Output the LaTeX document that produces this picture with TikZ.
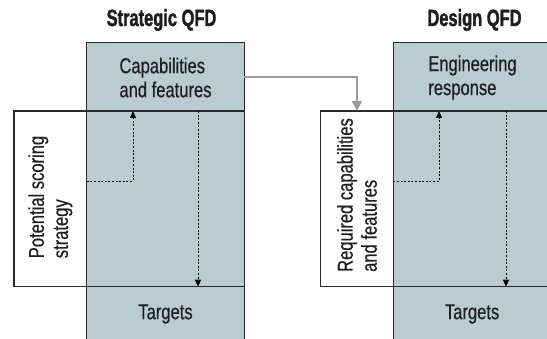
\documentclass[tikz,border=0pt]{standalone}
\usepackage{fontspec}
\setmainfont{Liberation Sans}[FakeStretch=0.77,FakeBold=0.5]
\newfontfamily\titlefont{Liberation Sans Bold}[FakeStretch=0.7,FakeBold=1.6]
\usetikzlibrary{arrows.meta}
\definecolor{panel}{HTML}{B8CCD2}
\definecolor{edge}{HTML}{2A2A2A}
\definecolor{txt}{HTML}{1E1E1E}
\definecolor{link}{HTML}{9C9C9C}
\begin{document}
\begin{tikzpicture}[x=1pt,y=-1pt,
  cell/.style={draw=edge,line width=1.1pt,inner sep=0pt,outer sep=0pt,minimum width=157.6pt},
  shaded/.style={cell,fill=panel},
  side/.style={draw=edge,line width=1.1pt,fill=white,inner sep=0pt,outer sep=0pt,minimum width=72.7pt,minimum height=175.7pt},
  lbl/.style={font=\fontsize{21.5}{24}\selectfont,text=txt,align=left,inner sep=0pt},
  ttl/.style={font=\titlefont\fontsize{23.5}{24}\selectfont,text=txt,inner sep=0pt,anchor=base},
  flow/.style={draw=black,line width=0.9pt,dash pattern=on 2pt off 1.6pt,-{Triangle[length=7pt,width=6pt]}},
  feed/.style={draw=link,line width=2.2pt,-{Triangle[length=10pt,width=10pt]}}]
\useasboundingbox (0,0) rectangle (547,339);
\clip (0,0) rectangle (547,339);
% titles
\node[ttl] (tL) at (161.5,26) {Strategic QFD};
\node[ttl] (tR) at (474.5,26) {Design QFD};
% left column
\node[shaded,minimum height=68.3pt] (capL) at (165.5,76.85) {};
\node[shaded,minimum height=175.7pt] (midL) at (165.5,198.85) {};
\node[shaded,minimum height=56pt] (tgtL) at (165.5,314.7) {};
\node[side] (pssL) at (50.35,198.85) {};
% right column
\node[shaded,minimum height=68.3pt] (capR) at (472.1,76.85) {};
\node[shaded,minimum height=175.7pt] (midR) at (472.1,198.85) {};
\node[shaded,minimum height=56pt] (tgtR) at (472.1,314.7) {};
\node[side] (reqR) at (357,198.85) {};
% texts
\node[lbl] (capLt) at (165.5,77.5) {Capabilities\\and features};
\node[lbl] (tgtLt) at (165.5,314) {Targets};
\node[lbl,rotate=90] (pssLt) at (50.35,197) {Potential scoring\\strategy};
\node[lbl] (capRt) at (472.5,77.5) {Engineering\\response};
\node[lbl] (tgtRt) at (472.1,314) {Targets};
\node[lbl,rotate=90] (reqRt) at (357,195) {Required capabilities\\and features};
% connector coordinates
\coordinate (aL) at (86.7,181);
\coordinate (bL) at (133,111);
\coordinate (cL) at (198,111);
\coordinate (dL) at (198,286.7);
\coordinate (aR) at (393.3,181);
\coordinate (bR) at (439,111);
\coordinate (cR) at (506,111);
\coordinate (dR) at (506,286.7);
% connectors
\draw[flow] (aL) -| (bL);
\draw[flow] (cL) -- (dL);
\draw[flow] (aR) -| (bR);
\draw[flow] (cR) -- (dR);
\draw[feed] (capL.east) -| (reqR.north);
\end{tikzpicture}
\end{document}
